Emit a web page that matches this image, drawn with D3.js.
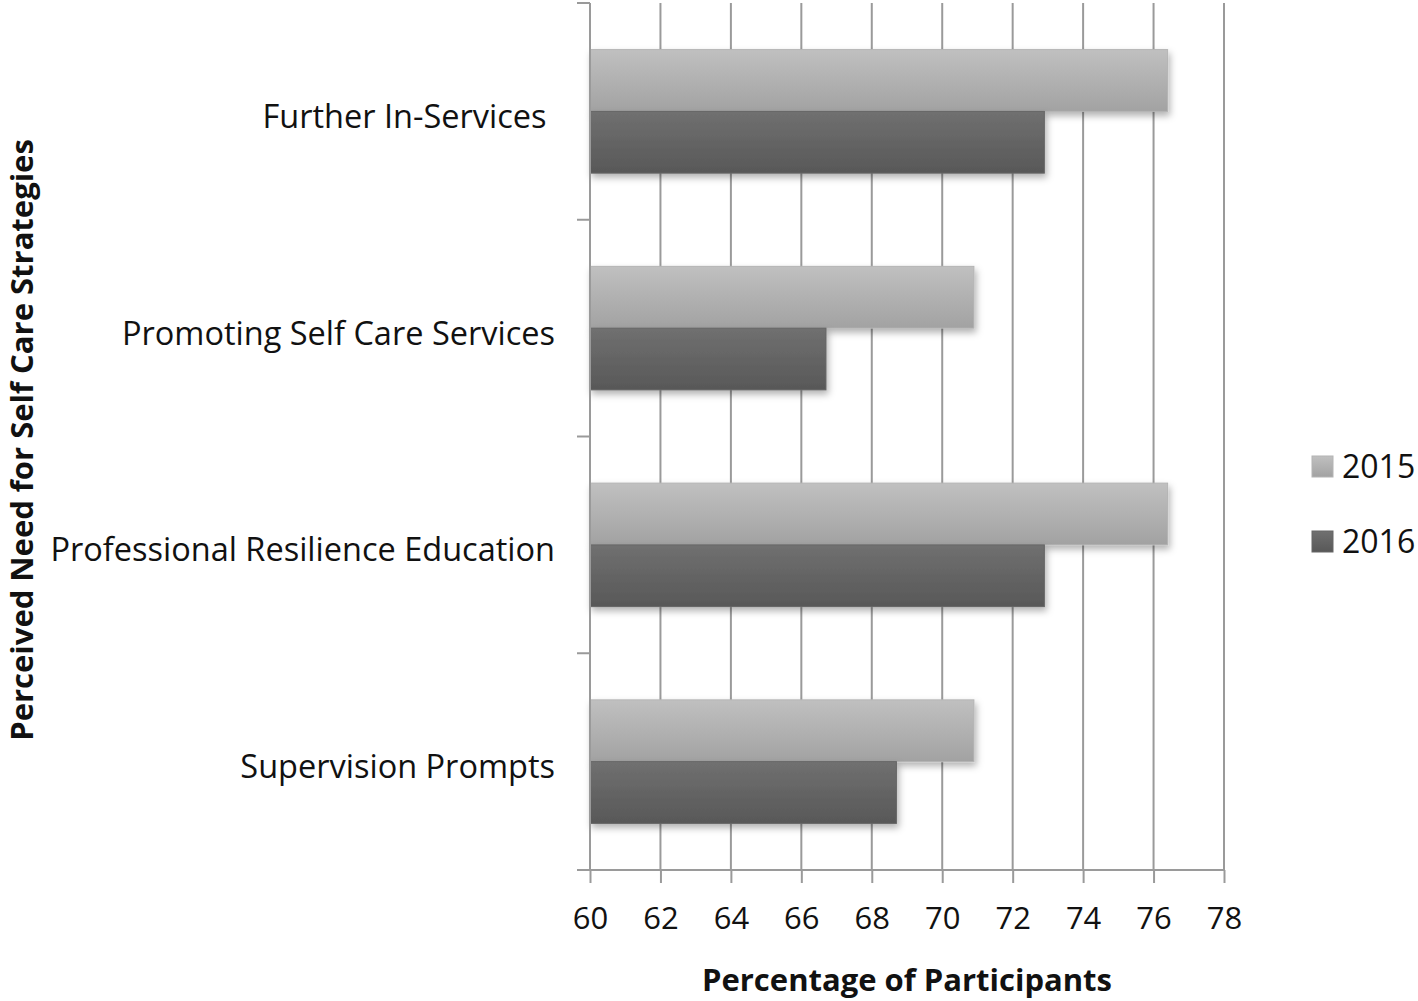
<!DOCTYPE html>
<meta charset="utf-8">
<style>
body { margin: 0; background: #fff; }
text { font-family: "Open Sans", sans-serif; fill: #111; }
.axis path, .axis line { stroke: #9a9a9a; stroke-width: 2px; }
.grid line { stroke: #9a9a9a; stroke-width: 2px; }
</style>
<body>
<svg width="1418" height="1001"></svg>
</body>
<script src="https://cdn.jsdelivr.net/npm/d3@7"></script>
<script>

var categories = ["Further In-Services ", "Promoting Self Care Services", "Professional Resilience Education", "Supervision Prompts"];
var years = ["2015", "2016"];
var values2015 = [76.4, 70.9, 76.4, 70.9];
var values2016 = [72.9, 66.7, 72.9, 68.7];
var xTicks = [60, 62, 64, 66, 68, 70, 72, 74, 76, 78];

var svg = d3.select("svg");

var x = d3.scaleLinear()
    .domain([60, 78])
    .range([590, 1224]);

var y = d3.scaleBand()
    .domain(categories)
    .range([3, 870])
    .paddingInner(0.43)
    .paddingOuter(0.215);

var inner = d3.scaleBand()
    .domain(years)
    .range([0, y.bandwidth()]);

var defs = svg.append("defs");

var grads = { "2015": ["#c0c0c0", "#a2a2a2"], "2016": ["#707070", "#585858"] };
years.forEach(function(yr) {
  var g = defs.append("linearGradient")
      .attr("id", "g" + yr)
      .attr("x1", 0).attr("y1", 0).attr("x2", 0).attr("y2", 1);
  g.append("stop").attr("offset", "0%").attr("stop-color", grads[yr][0]);
  g.append("stop").attr("offset", "100%").attr("stop-color", grads[yr][1]);
});

var shadow = defs.append("filter")
    .attr("id", "shadow")
    .attr("x", "-5%").attr("y", "-20%")
    .attr("width", "115%").attr("height", "160%");
shadow.append("feDropShadow")
    .attr("dx", 2).attr("dy", 4)
    .attr("stdDeviation", 3.5)
    .attr("flood-color", "#000")
    .attr("flood-opacity", 0.3);

// gridlines
svg.append("g")
    .attr("class", "grid")
  .selectAll("line")
  .data(xTicks.slice(1))
  .enter().append("line")
    .attr("x1", function(d) { return x(d); })
    .attr("x2", function(d) { return x(d); })
    .attr("y1", 3)
    .attr("y2", 870);

// bars
var rows = categories.map(function(c, i) {
  return [{ cat: c, yr: "2015", v: values2015[i] }, { cat: c, yr: "2016", v: values2016[i] }];
});

svg.append("g")
  .selectAll("g")
  .data(rows)
  .enter().append("g")
    .attr("transform", function(d) { return "translate(0," + y(d[0].cat) + ")"; })
  .selectAll("rect")
  .data(function(d) { return d; })
  .enter().append("rect")
    .attr("x", x(60))
    .attr("y", function(d) { return inner(d.yr); })
    .attr("width", function(d) { return x(d.v) - x(60); })
    .attr("height", inner.bandwidth())
    .attr("fill", function(d) { return "url(#g" + d.yr + ")"; })
    .attr("stroke", function(d) { return d.yr == "2015" ? "#b4b4b4" : "#666"; })
    .attr("stroke-width", 1)
    .attr("filter", "url(#shadow)");

// y axis
var yAxisG = svg.append("g").attr("class", "axis");
yAxisG.append("line")
    .attr("x1", 590).attr("x2", 590)
    .attr("y1", 3).attr("y2", 870);
var bounds = categories.map(function(c) { return y(c) - y.step() * y.paddingInner() / 2; });
yAxisG.selectAll(".tk")
  .data(bounds)
  .enter().append("line")
    .attr("x1", 577).attr("x2", 590)
    .attr("y1", function(d) { return d; })
    .attr("y2", function(d) { return d; });

svg.append("g")
  .selectAll("text")
  .data(categories)
  .enter().append("text")
    .attr("x", 555)
    .attr("y", function(c) { return y(c) + y.bandwidth() / 2 + 5; })
    .attr("dy", "0.35em")
    .attr("text-anchor", "end")
    .attr("font-size", 32.5)
    .style("white-space", "pre")
    .text(function(c) { return c; });

// x axis
var xAxis = svg.append("g")
    .attr("class", "axis")
    .attr("transform", "translate(0,870)")
    .call(d3.axisBottom(x).tickValues(xTicks).tickSize(13).tickSizeOuter(0));
xAxis.select(".domain").attr("d", "M577,0H1224");
xAxis.selectAll("text")
    .attr("font-size", 31)
    .attr("font-family", "'Open Sans', sans-serif")
    .attr("fill", "#111")
    .attr("dy", "1.4em");

svg.append("text")
    .attr("x", 907)
    .attr("y", 991)
    .attr("text-anchor", "middle")
    .attr("font-size", 31)
    .attr("font-weight", "bold")
    .text("Percentage of Participants");

svg.append("text")
    .attr("transform", "translate(33,440) rotate(-90)")
    .attr("text-anchor", "middle")
    .attr("font-size", 31)
    .attr("font-weight", "bold")
    .text("Perceived Need for Self Care Strategies");

// legend
var legend = svg.append("g")
  .selectAll("g")
  .data(years)
  .enter().append("g")
    .attr("transform", function(d, i) { return "translate(1312," + (456 + i * 75) + ")"; });
legend.append("rect")
    .attr("width", 21).attr("height", 21)
    .attr("fill", function(d) { return "url(#g" + d + ")"; })
    .attr("stroke", function(d) { return d == "2015" ? "#b4b4b4" : "#666"; });
legend.append("text")
    .attr("x", 30)
    .attr("y", 11)
    .attr("dy", "0.35em")
    .attr("font-size", 32)
    .text(function(d) { return d; });

</script>
